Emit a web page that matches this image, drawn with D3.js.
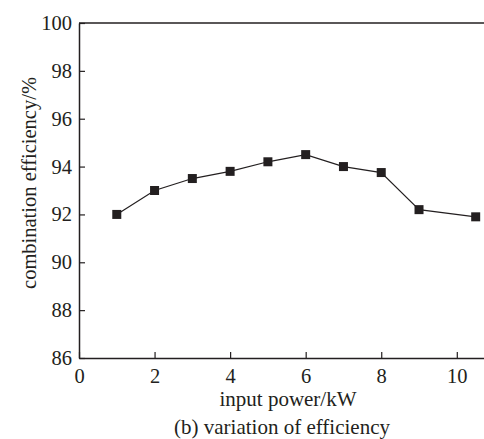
<!DOCTYPE html>
<html><head><meta charset="utf-8">
<script src="https://cdn.jsdelivr.net/npm/d3@7"></script>
<style>body{margin:0;background:#fff;} svg{display:block;}</style>
</head><body>
<script>
const xValues = [1, 2, 3, 4, 5, 6, 7, 8, 9, 10.5];
const efficiency = [92.0, 93.0, 93.5, 93.8, 94.2, 94.5, 94.0, 93.75, 92.2, 91.9];
const xTicks = [0, 2, 4, 6, 8, 10];
const yTicks = [86, 88, 90, 92, 94, 96, 98, 100];
const xLabel = "input power/kW";
const yLabel = "combination efficiency/%";
const caption = "(b) variation of efficiency";

(function () {
const W = 484, H = 439;
const svg = d3.select("body").append("svg").attr("width", W).attr("height", H);
const font = "Liberation Serif, Times New Roman, serif";
const pL = 79, pR = 484, pT = 23, pB = 358;
const x = d3.scaleLinear().domain([0, 10.72]).range([pL, pR]);
const y = d3.scaleLinear().domain([86, 100]).range([pB, pT]);
const col = "#231f20";

svg.append("line").attr("x1", pL).attr("x2", pR).attr("y1", pT).attr("y2", pT).attr("stroke", col).attr("stroke-width", 1.5);

const xAxis = svg.append("g").attr("transform", `translate(0,${pB})`)
  .call(d3.axisBottom(x).tickValues(xTicks).tickSizeInner(-6).tickSizeOuter(0).tickPadding(10).tickFormat(d3.format("d")));
const yAxis = svg.append("g").attr("transform", `translate(${pL},0)`)
  .call(d3.axisLeft(y).tickValues(yTicks).tickSizeInner(-6).tickSizeOuter(0).tickPadding(7).tickFormat(d3.format("d")));
[xAxis, yAxis].forEach(g => {
  g.select(".domain").attr("stroke", col).attr("stroke-width", 1.5);
  g.selectAll(".tick line").attr("stroke", col).attr("stroke-width", 1.2);
  g.selectAll("text").attr("font-family", font).attr("font-size", 20.5).attr("fill", col);
});
xAxis.selectAll("text").attr("dy", "0.71em");

const line = d3.line().x((d, i) => x(xValues[i])).y(d => y(d));
svg.append("path").datum(efficiency).attr("d", line).attr("fill", "none").attr("stroke", col).attr("stroke-width", 1.2);
const s = 9;
svg.selectAll("rect.m").data(efficiency).enter().append("rect").attr("class", "m")
  .attr("x", (d, i) => x(xValues[i]) - s / 2).attr("y", d => y(d) - s / 2)
  .attr("width", s).attr("height", s).attr("fill", col);

svg.append("text").attr("x", 288).attr("y", 406).attr("text-anchor", "middle")
  .attr("font-family", font).attr("font-size", 21).attr("fill", col).text(xLabel);
svg.append("text").attr("x", 282).attr("y", 434).attr("text-anchor", "middle")
  .attr("font-family", font).attr("font-size", 21).attr("fill", col).text(caption);
svg.append("text").attr("transform", `translate(36,183) rotate(-90)`).attr("text-anchor", "middle")
  .attr("font-family", font).attr("font-size", 20.5).attr("fill", col).text(yLabel);
})();
</script>
</body></html>
